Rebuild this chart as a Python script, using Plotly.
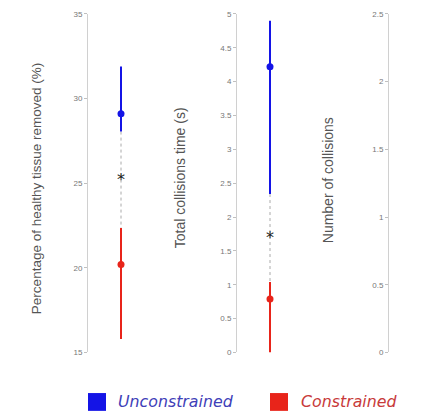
import plotly.graph_objects as go

# Data
tissue_mean = [29.1, 20.2]        # Unconstrained, Constrained
tissue_low = [28.05, 15.8]
tissue_high = [31.9, 22.35]
tissue_star = 25.15

time_mean = [4.22, 0.79]
time_low = [2.34, 0.0]
time_high = [4.9, 1.04]
time_star = 1.68

groups = ["Unconstrained", "Constrained"]
colors = ["#1414e6", "#e8241a"]
text_colors = ["#4040b8", "#c83a3a"]

OFF = 8  # page body margin
W, H = 422 - OFF, 417 - OFF
SY = 0.988  # empirical vertical correction
fig = go.Figure()

def px_x(p):
    return (p - OFF) / W

def px_y(p):
    q = 12 + (p - 12) / SY
    return 1 - (q - OFF) / H

def add_panel(xa, ya, mean, low, high, star):
    fig.add_trace(go.Scatter(x=[0, 0], y=[low[0], high[1]], mode="lines",
                             line=dict(color="#aaaaaa", width=1, dash="dot"),
                             xaxis=xa, yaxis=ya, showlegend=False, hoverinfo="skip"))
    for i in range(2):
        fig.add_trace(go.Scatter(x=[0, 0], y=[low[i], high[i]], mode="lines",
                                 line=dict(color=colors[i], width=2),
                                 xaxis=xa, yaxis=ya, showlegend=False))
        fig.add_trace(go.Scatter(x=[0], y=[mean[i]], mode="markers",
                                 marker=dict(color=colors[i], size=7, symbol="circle"),
                                 xaxis=xa, yaxis=ya, showlegend=False))
    fig.add_trace(go.Scatter(x=[0], y=[star], mode="text", text=["*"],
                             textfont=dict(size=16, color="#222222", family="DejaVu Sans"),
                             textposition="middle center",
                             xaxis=xa, yaxis=ya, showlegend=False))

add_panel("x", "y", tissue_mean, tissue_low, tissue_high, tissue_star)
add_panel("x2", "y2", time_mean, time_low, time_high, time_star)
fig.add_trace(go.Scatter(x=[None], y=[None], xaxis="x3", yaxis="y3", showlegend=False))

ytop = px_y(10)
ybot = px_y(352)

def yax(rng, dtick, anchor):
    return dict(range=rng, dtick=dtick, domain=[ybot, ytop], anchor=anchor,
                showline=True, linecolor="#d0d0d0", linewidth=1,
                ticks="outside", ticklen=3, tickcolor="#c0c0c0",
                ticklabeloverflow="allow",
                tickfont=dict(size=8, color="#777777", family="Liberation Sans"),
                showgrid=False, zeroline=False)

def xax(d0, d1, anchor):
    return dict(domain=[d0, d1], range=[-1, 1], visible=False, anchor=anchor)

fig.update_layout(
    width=W, height=H,
    margin=dict(l=0, r=0, t=0, b=0),
    paper_bgcolor="white", plot_bgcolor="rgba(0,0,0,0)",
    showlegend=False,
    xaxis=xax(px_x(88), px_x(154), "y"),
    xaxis2=xax(px_x(237), px_x(303), "y2"),
    xaxis3=xax(px_x(389), 1.0, "y3"),
    yaxis=yax([15, 35], 5, "x"),
    yaxis2=yax([0, 5], 0.5, "x2"),
    yaxis3=yax([0, 2.5], 0.5, "x3"),
)

titles = [("Percentage of healthy tissue removed (%)", 36, 187, 13.5),
          ("Total collisions time (s)", 180, 176, 14),
          ("Number of collisions", 328, 178, 14)]
for t, p, yc, fs in titles:
    fig.add_annotation(text=t, x=px_x(p), y=px_y(yc), xref="paper", yref="paper",
                       xanchor="center", yanchor="middle",
                       textangle=-90, showarrow=False,
                       font=dict(size=fs, color="#555555", family="Liberation Sans"))

leg_y = px_y(402)
for i, (g, c) in enumerate(zip(groups, colors)):
    sx = [97, 279][i]
    tx = [116, 299][i]
    fig.add_shape(type="rect", xref="paper", yref="paper",
                  x0=px_x(sx - 9), x1=px_x(sx + 9), y0=px_y(411), y1=px_y(393),
                  fillcolor=c, line=dict(width=0))
    fig.add_annotation(text="<i>" + g + "</i>", x=px_x(tx), y=leg_y, xref="paper", yref="paper",
                       xanchor="left", yanchor="middle", showarrow=False,
                       font=dict(size=15.8, color=text_colors[i], family="DejaVu Sans"))

fig.write_html("out.html")
